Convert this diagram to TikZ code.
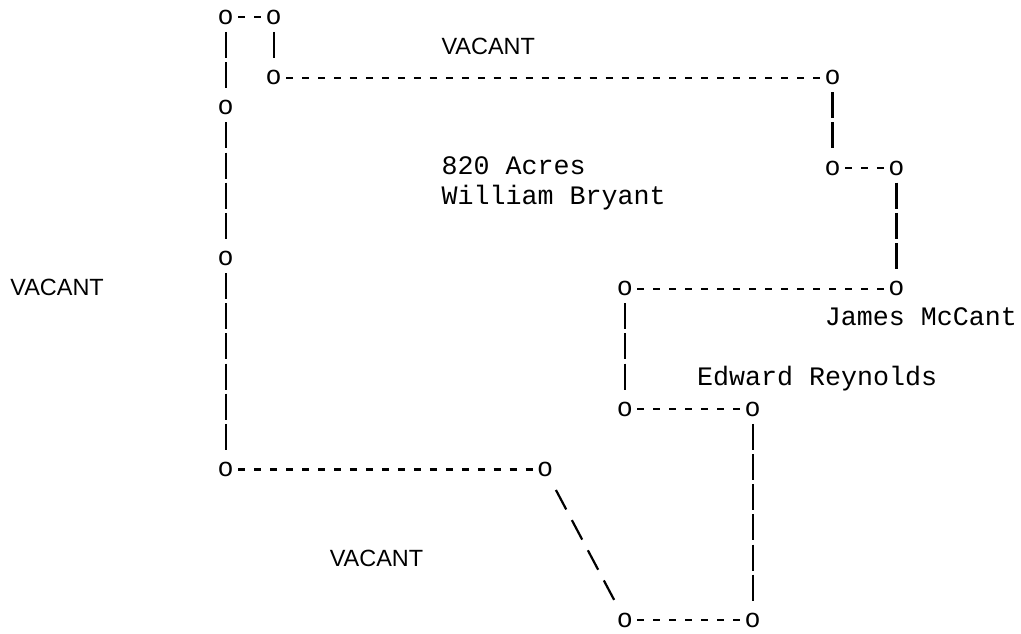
\documentclass[tikz,border=0pt]{standalone}
\usepackage{fontspec}
\newfontfamily\monof{Liberation Mono}
\newfontfamily\sansf{Liberation Sans}
\begin{document}
\begin{tikzpicture}[x=0.75pt,y=-0.75pt,
  dot/.style={inner sep=0pt, anchor=center, font=\monof\fontsize{20pt}{24pt}\selectfont},
  lbl/.style={inner sep=0pt, anchor=base west, font=\monof\fontsize{20pt}{24pt}\selectfont},
  vac/.style={inner sep=0pt, anchor=base west, font=\sansf\fontsize{17.6pt}{21pt}\selectfont},
  conn/.style={line width=1.65pt, black},
  hcon/.style={conn, dash pattern=on 5.25pt off 6.73pt, shorten <=9.35pt, shorten >=9.35pt},
  vcon/.style={conn, dash pattern=on 19.5pt off 3.11pt, shorten <=10.99pt, shorten >=14.74pt},
  dcon/.style={conn, dash pattern=on 16.5pt off 9.09pt, shorten <=17.34pt, shorten >=17.34pt}
]
\useasboundingbox (0,0) rectangle (1021,633);
% corner points
\node[dot] (o1)  at (225.7,17.3)   {o};
\node[dot] (o2)  at (273.61,17.3)  {o};
\node[dot] (o3)  at (273.61,77.6)  {o};
\node[dot] (o4)  at (832.56,77.6)  {o};
\node[dot] (o5)  at (225.7,107.75) {o};
\node[dot] (o6)  at (832.56,168.05) {o};
\node[dot] (o7)  at (896.44,168.05) {o};
\node[dot] (o8)  at (225.7,258.5)  {o};
\node[dot] (o9)  at (624.95,288.65) {o};
\node[dot] (o10) at (896.44,288.65) {o};
\node[dot] (o11) at (624.95,409.25) {o};
\node[dot] (o12) at (752.71,409.25) {o};
\node[dot] (o13) at (225.7,469.55) {o};
\node[dot] (o14) at (545.1,469.55) {o};
\node[dot] (o15) at (624.95,620.3) {o};
\node[dot] (o16) at (752.71,620.3) {o};
% labels
\node[vac] (v1) at (441.3,54.15) {VACANT};
\node[vac] (v2) at (10.1,295.35) {VACANT};
\node[vac] (v3) at (329.5,566.7) {VACANT};
\node[lbl] (acres) at (441.3,174.75) {820 Acres};
\node[lbl] (bryant) at (441.3,204.9) {William Bryant};
\node[lbl] (mccant) at (824.6,325.5) {James McCant};
\node[lbl] (reyn) at (696.8,385.8) {Edward Reynolds};
% horizontal connectors
\draw[hcon] (o1.center) -- (o2.center);
\draw[hcon] (o3.center) -- (o4.center);
\draw[hcon] (o6.center) -- (o7.center);
\draw[hcon] (o9.center) -- (o10.center);
\draw[hcon] (o11.center) -- (o12.center);
\draw[hcon] (o13.center) -- (o14.center);
\draw[hcon] (o15.center) -- (o16.center);
% vertical connectors (top to bottom)
\draw[vcon] (o1.center) -- (o5.center);
\draw[vcon] (o5.center) -- (o8.center);
\draw[vcon] (o8.center) -- (o13.center);
\draw[vcon] (o2.center) -- (o3.center);
\draw[vcon] (o4.center) -- (o6.center);
\draw[vcon] (o7.center) -- (o10.center);
\draw[vcon] (o9.center) -- (o11.center);
\draw[vcon] (o12.center) -- (o16.center);
% diagonal
\draw[dcon] (o14.center) -- (o15.center);
\end{tikzpicture}
\end{document}
